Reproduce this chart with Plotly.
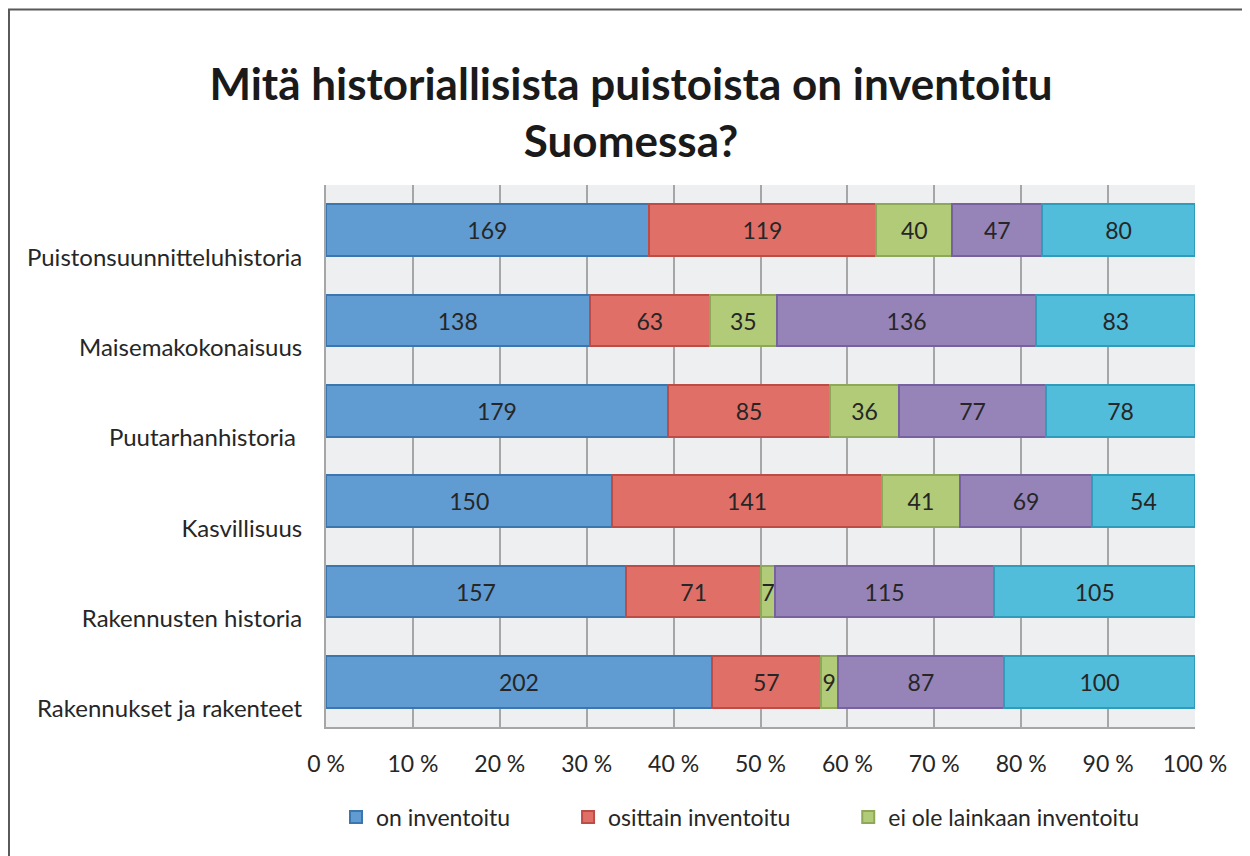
import plotly.graph_objects as go

# ---- DATA ----
categories = [
    "Puistonsuunnitteluhistoria",
    "Maisemakokonaisuus",
    "Puutarhanhistoria ",
    "Kasvillisuus",
    "Rakennusten historia",
    "Rakennukset ja rakenteet",
]
series_names = ["on inventoitu", "osittain inventoitu", "ei ole lainkaan inventoitu",
                "sarja 4", "sarja 5"]
on_inventoitu = [169, 138, 179, 150, 157, 202]
osittain_inventoitu = [119, 63, 85, 141, 71, 57]
ei_inventoitu = [40, 35, 36, 41, 7, 9]
sarja_4 = [47, 136, 77, 69, 115, 87]
sarja_5 = [80, 83, 78, 54, 105, 100]
tick_vals = [0, 10, 20, 30, 40, 50, 60, 70, 80, 90, 100]
tick_text = ["0 %", "10 %", "20 %", "30 %", "40 %", "50 %", "60 %", "70 %", "80 %", "90 %", "100 %"]

# ---- STYLE ----
fills = ["#609BD1", "#E06F68", "#B1CB78", "#9683B8", "#52BCDB"]
edges = ["#3B76AE", "#BD4C47", "#8DA858", "#77619F", "#2F9CBC"]
FONT = "Lato"
PAD = "\u00a0" * 9  # extra gap between legend entries

values = [on_inventoitu, osittain_inventoitu, ei_inventoitu, sarja_4, sarja_5]

fig = go.Figure()
for i, (name, vals) in enumerate(zip(series_names, values)):
    fig.add_trace(go.Bar(
        y=categories,
        x=vals,
        name=name + (PAD if i < 2 else ""),
        orientation='h',
        text=vals,
        textposition='inside',
        insidetextanchor='middle',
        textangle=0,
        textfont=dict(family=FONT, size=23, color='#262626'),
        marker=dict(color=fills[i], line=dict(color=edges[i], width=2)),
        showlegend=i < 3,
        width=0.575,
        hoverinfo='skip',
    ))

# page body has an 8px margin, so size/margins are trimmed by that
fig.update_layout(
    barmode='stack',
    barnorm='percent',
    width=1242,
    height=848,
    margin=dict(l=318, r=55, t=177, b=129),
    paper_bgcolor='white',
    plot_bgcolor='#EEEFF1',
    font=dict(family=FONT, size=23, color='#262626'),
    uniformtext=dict(minsize=23, mode='show'),
    title=dict(
        text='<b>Mitä historiallisista puistoista on inventoitu<br>Suomessa?</b>',
        x=0.5016, xanchor='center', y=0.8915, yanchor='middle',
        font=dict(family=FONT, size=44, color='#1A1A1A'),
    ),
    legend=dict(
        orientation='h', x=0.477, xanchor='center', y=-0.166, yanchor='middle',
        font=dict(family=FONT, size=23, color='#262626'),
        traceorder='normal',
    ),
    xaxis=dict(
        range=[0, 100], tickvals=tick_vals, ticktext=tick_text,
        tickfont=dict(size=23),
        showgrid=True, gridcolor='#A6A6A6', gridwidth=2,
        showline=True, linecolor='#A6A6A6', linewidth=2,
        ticks='', ticklabelstandoff=15, zeroline=False,
    ),
    yaxis=dict(
        categoryorder='array', categoryarray=categories, autorange='reversed',
        tickfont=dict(size=24),
        showgrid=False, showline=True, linecolor='#A6A6A6', linewidth=2,
        ticks='', ticklabelstandoff=17, ticklabelshift=-27,
    ),
    shapes=[dict(
        type='rect', xref='paper', yref='paper',
        x0=-0.3648, x1=1.3, y0=-0.5, y1=1.3238,
        line=dict(color='#595959', width=2), layer='below',
    )],
)

fig.write_html("out.html")
